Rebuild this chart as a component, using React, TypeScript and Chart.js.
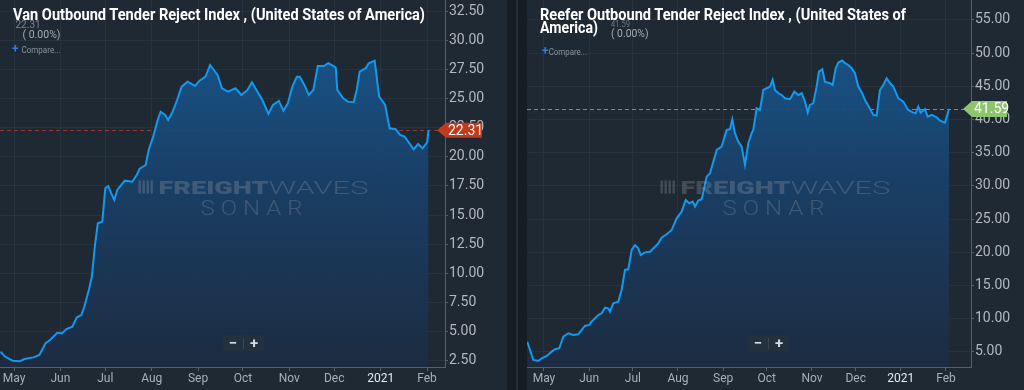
import React, { useEffect, useRef } from 'react';
import { Chart, registerables } from 'chart.js';

Chart.register(...registerables);

// x values are days since 2020-05-01
const monthLabels = ['May', 'Jun', 'Jul', 'Aug', 'Sep', 'Oct', 'Nov', 'Dec', '2021', 'Feb'];
const monthDays = [0, 31, 61, 92, 123, 153, 184, 214, 245, 276];

const vanTicks = [2.5, 5, 7.5, 10, 12.5, 15, 17.5, 20, 22.5, 25, 27.5, 30, 32.5];
const vanDays = [-9, -6, -1, 4, 7, 13, 17, 21, 24, 29, 32, 35, 39, 42, 45, 47, 50, 52, 54, 56, 59, 61, 63, 65, 67, 69, 74, 79, 82, 84, 88, 90, 93, 96, 98, 101, 103, 106, 109, 112, 116, 121, 124, 128, 131, 136, 139, 143, 148, 152, 156, 159, 162, 166, 170, 173, 177, 180, 183, 186, 189, 191, 194, 197, 200, 203, 207, 210, 215, 216, 220, 223, 227, 229, 231, 235, 237, 241, 244, 248, 251, 255, 258, 261, 265, 267, 270, 273, 276, 277];
const vanValues = [3.22, 2.8, 2.44, 2.4, 2.59, 2.73, 2.93, 3.94, 4.22, 4.85, 4.8, 5.17, 5.37, 6.18, 6.38, 7.09, 8.53, 9.68, 12.27, 14.28, 14.42, 17.3, 17.5, 16.87, 16.3, 17.16, 17.96, 17.87, 18.45, 19.0, 19.31, 20.6, 21.75, 23.19, 23.9, 23.62, 23.19, 23.9, 24.91, 26.06, 26.49, 26.12, 26.58, 26.92, 27.93, 27.07, 25.92, 25.63, 25.92, 25.34, 25.78, 26.44, 25.78, 24.91, 23.71, 24.48, 24.83, 23.99, 24.63, 26.06, 26.92, 26.92, 26.21, 25.34, 25.78, 27.84, 27.84, 28.08, 27.73, 25.78, 25.06, 24.77, 24.72, 25.78, 27.36, 27.65, 28.08, 28.3, 25.2, 24.48, 22.47, 22.39, 21.9, 21.75, 21.03, 20.66, 21.12, 20.75, 21.23, 22.31];

const reeferTicks = [5, 10, 15, 20, 25, 30, 35, 40, 45, 50, 55];
const reeferDays = [-11.5, -9.6, -7.3, -3.9, -1.6, 1.9, 5.3, 7.6, 10.5, 13.3, 16.7, 20.1, 23.5, 28.1, 31.1, 32.7, 37.3, 39.6, 41.9, 44.1, 45.3, 47.6, 51, 53.3, 55.6, 57.9, 60.2, 62.5, 64.7, 66.4, 69.3, 72.8, 76.2, 78.5, 80.8, 84.2, 87.7, 91.1, 94.5, 97.3, 99.8, 102.1, 103.7, 105.9, 108.3, 111.7, 114, 118.6, 122, 125.4, 127.7, 129.3, 131.1, 133.4, 135.7, 138, 140.3, 142.6, 143.7, 146, 148.3, 150.6, 152.9, 155.2, 157, 158.6, 160.9, 163.2, 165.5, 168.9, 171.9, 174.6, 177, 179.2, 181.1, 182.6, 184.9, 187.2, 188.8, 191.1, 192.9, 196.4, 198.2, 200.3, 202.1, 204.8, 206.7, 208.9, 211.3, 213.5, 215.8, 218.5, 220.4, 223.1, 226.1, 228.4, 230.7, 233, 235.3, 237.6, 239.9, 243.3, 246.7, 250.1, 253.6, 255.2, 257, 258.6, 261.6, 263.4, 266.2, 269.6, 271.9, 275.3, 278.1];
const reeferValues = [6.55, 5.3, 3.8, 3.64, 4.05, 4.4, 5.05, 5.41, 5.56, 7.3, 7.82, 7.56, 7.66, 8.92, 9.07, 9.56, 10.57, 10.83, 11.67, 11.58, 11.07, 12.33, 12.58, 14.34, 17.35, 17.45, 20.36, 21.11, 20.61, 19.6, 20.0, 20.1, 20.85, 21.36, 22.21, 22.72, 23.37, 25.13, 26.13, 27.9, 27.4, 27.64, 26.89, 27.79, 28.0, 31.4, 31.91, 35.42, 35.92, 38.43, 38.54, 40.04, 37.94, 36.68, 35.92, 33.2, 36.43, 37.94, 38.43, 41.7, 41.45, 44.46, 44.71, 44.96, 45.96, 44.46, 43.96, 43.7, 43.2, 43.06, 44.2, 43.7, 43.96, 42.7, 41.04, 42.2, 42.45, 44.96, 47.22, 47.57, 45.71, 45.46, 45.2, 47.73, 48.58, 48.88, 48.48, 48.22, 47.73, 46.97, 44.96, 43.96, 42.95, 41.94, 40.69, 40.59, 44.46, 45.2, 46.22, 45.46, 44.96, 43.2, 42.7, 41.45, 41.04, 40.95, 41.94, 41.04, 41.55, 40.44, 40.69, 40.34, 39.83, 39.53, 41.59];

const FONT = 'Roboto, "Noto Sans", sans-serif';
const BG = '#1f2934';
const SEP = '#161d25';
const GRID = 'rgba(255,255,255,0.045)';
const AXIS = '#56606a';
const WM = 'rgba(160,166,176,0.28)';

function drawScaled(ctx: CanvasRenderingContext2D, t: string, font: string, x: number, y: number, target: number, ls = '0px') {
  ctx.save();
  ctx.font = font;
  (ctx as any).letterSpacing = ls;
  const w = ctx.measureText(t).width || 1;
  ctx.translate(x, y);
  ctx.scale(target / w, 1);
  ctx.textAlign = 'left';
  ctx.textBaseline = 'alphabetic';
  ctx.fillText(t, 0, 0);
  ctx.restore();
}

type Cfg = {
  days: number[]; values: number[]; yTicks: number[];
  xMin: number; xMax: number; yMin: number; yMax: number;
  axisW: number; tagColor: string; dashColor: string; tagH: number; tagW: number;
};

function makeConfig(p: Cfg): any {
  const last = p.values[p.values.length - 1];
  const points = p.days.map((d, i) => ({ x: d, y: p.values[i] }));
  const refPlugin = {
    id: 'ref',
    beforeDatasetsDraw(chart: any) {
      const { ctx, chartArea } = chart;
      const y = chart.scales.y.getPixelForValue(last);
      ctx.save();
      ctx.strokeStyle = p.dashColor;
      ctx.lineWidth = 1;
      ctx.setLineDash([4, 3]);
      ctx.beginPath();
      ctx.moveTo(chartArea.left, Math.round(y) + 0.5);
      ctx.lineTo(chartArea.right, Math.round(y) + 0.5);
      ctx.stroke();
      ctx.restore();
    },
  };
  const wmPlugin = {
    id: 'wm',
    afterDatasetsDraw(chart: any) {
      const ctx = chart.ctx as CanvasRenderingContext2D;
      const cx = chart.width / 2;
      const x0 = cx - 115;
      ctx.save();
      ctx.fillStyle = WM;
      for (let i = 0; i < 4; i++) ctx.fillRect(x0 + i * 4, 180.5, 2.4, 13);
      drawScaled(ctx, 'FREIGHT', '900 18px ' + FONT, x0 + 20, 193.5, 110);
      drawScaled(ctx, 'WAVES', '300 18px ' + FONT, x0 + 130, 193.5, 100);
      drawScaled(ctx, 'SONAR', '300 20px ' + FONT, cx - 53, 215, 108, '5px');
      ctx.restore();
    },
  };
  const tagPlugin = {
    id: 'tag',
    afterDraw(chart: any) {
      const { ctx, chartArea } = chart;
      const y = chart.scales.y.getPixelForValue(last);
      const r = chartArea.right;
      const h = p.tagH / 2;
      ctx.save();
      ctx.fillStyle = p.tagColor;
      ctx.beginPath();
      ctx.moveTo(r - 8, y);
      ctx.lineTo(r + 1, y - h);
      ctx.lineTo(r + p.tagW, y - h);
      ctx.lineTo(r + p.tagW, y + h);
      ctx.lineTo(r + 1, y + h);
      ctx.closePath();
      ctx.fill();
      ctx.fillStyle = '#ffffff';
      ctx.font = '14px ' + FONT;
      ctx.textAlign = 'left';
      ctx.textBaseline = 'middle';
      ctx.fillText(last.toFixed(2), r + 3, y + 1);
      ctx.restore();
    },
  };
  return {
    type: 'line',
    data: {
      datasets: [{
        data: points,
        borderColor: '#1299f0',
        borderWidth: 2,
        pointRadius: 0,
        tension: 0,
        fill: 'start',
        backgroundColor: (c: any) => {
          const area = c.chart.chartArea;
          if (!area) return 'rgba(24,90,148,0.9)';
          const g = c.chart.ctx.createLinearGradient(0, area.top, 0, area.bottom);
          g.addColorStop(0, 'rgba(24,94,152,0.94)');
          g.addColorStop(0.5, 'rgba(26,64,104,0.94)');
          g.addColorStop(1, 'rgba(29,44,66,0.94)');
          return g;
        },
      }],
    },
    options: {
      responsive: false,
      maintainAspectRatio: false,
      animation: false,
      layout: { padding: 0, autoPadding: false },
      plugins: { legend: { display: false }, tooltip: { enabled: false } },
      scales: {
        x: {
          type: 'linear', min: p.xMin, max: p.xMax,
          afterBuildTicks: (s: any) => { s.ticks = monthDays.map((v) => ({ value: v })); },
          afterFit: (s: any) => { s.height = 23; s.paddingLeft = 0; s.paddingRight = 0; },
          grid: { color: GRID, tickColor: AXIS, tickLength: 4, drawTicks: true },
          border: { color: AXIS, width: 1 },
          ticks: {
            autoSkip: false, maxRotation: 0, padding: 1,
            font: { family: FONT, size: 12 },
            color: (c: any) => (monthLabels[c.index] === '2021' ? '#e6e9ec' : '#a8afb6'),
            callback: (v: any) => monthLabels[monthDays.indexOf(Number(v))] ?? '',
          },
        },
        y: {
          type: 'linear', position: 'right', min: p.yMin, max: p.yMax,
          afterBuildTicks: (s: any) => { s.ticks = p.yTicks.map((v) => ({ value: v })); },
          afterFit: (s: any) => { s.width = p.axisW; s.paddingTop = 0; s.paddingBottom = 0; },
          grid: { color: GRID, tickColor: AXIS, tickLength: 3 },
          border: { color: AXIS, width: 1 },
          ticks: {
            padding: 1,
            font: { family: FONT, size: 14 },
            color: '#b2b8be',
            callback: (v: any) => Number(v).toFixed(2),
          },
        },
      },
    },
    plugins: [refPlugin, wmPlugin, tagPlugin],
  };
}

function ChartCanvas(props: { cfg: Cfg; left: number; width: number }) {
  const ref = useRef<HTMLCanvasElement | null>(null);
  useEffect(() => {
    if (!ref.current) return;
    const chart = new Chart(ref.current, makeConfig(props.cfg));
    return () => chart.destroy();
  }, []);
  return (
    <canvas
      ref={ref}
      width={props.width}
      height={390}
      style={{ position: 'absolute', left: props.left, top: 0, width: props.width, height: 390 }}
    />
  );
}

const vanCfg: Cfg = {
  days: vanDays, values: vanValues, yTicks: vanTicks,
  xMin: -9.36, xMax: 288.0, yMin: 1.9, yMax: 33.53,
  axisW: 62, tagColor: '#c23a1c', dashColor: 'rgba(170,62,42,0.8)', tagH: 15, tagW: 37,
};
const reeferCfg: Cfg = {
  days: reeferDays, values: reeferValues, yTicks: reeferTicks,
  xMin: -11.67, xMax: 293.2, yMin: 2.74, yMax: 58.0,
  axisW: 53, tagColor: '#8cc56b', dashColor: 'rgba(128,178,98,0.85)', tagH: 16, tagW: 36,
};

function ZoomButtons(props: { left: number }) {
  return (
    <div style={{
      position: 'absolute', left: props.left, top: 335, width: 41, height: 16,
      background: 'rgba(36,48,61,0.95)', borderRadius: 2, display: 'flex',
      alignItems: 'center', fontFamily: FONT, fontWeight: 700, fontSize: 15, color: '#d6dadf',
    }}>
      <span style={{ width: 20, textAlign: 'center', lineHeight: '16px' }}>−</span>
      <span style={{ width: 1, height: 11, background: '#3a4653' }} />
      <span style={{ width: 20, textAlign: 'center', lineHeight: '16px' }}>+</span>
    </div>
  );
}

export default function App() {
  return (
    <div style={{ position: 'fixed', left: 0, top: 0, width: 1024, height: 390, background: SEP, overflow: 'hidden' }}>
      <div style={{ position: 'absolute', left: 0, top: 0, width: 507, height: 390, background: BG }} />
      <div style={{ position: 'absolute', left: 516, top: 0, width: 2, height: 390, background: '#252e38' }} />
      <div style={{ position: 'absolute', left: 527, top: 0, width: 497, height: 390, background: BG }} />
      <ChartCanvas cfg={vanCfg} left={0} width={507} />
      <ChartCanvas cfg={reeferCfg} left={527} width={497} />
      <ZoomButtons left={223} />
      <ZoomButtons left={748} />
      <svg width={1024} height={390} style={{ position: 'absolute', left: 0, top: 0, pointerEvents: 'none' }}>
        <g fontFamily={FONT}>
          <text x={15.5} y={28} fontSize={10} fill="#7d8791">22.31</text>
          <text x={22.5} y={37.5} fontSize={11} fill="#a4acb4" textLength={38} lengthAdjust="spacingAndGlyphs">( 0.00%)</text>
          <text x={12} y={52.5} fontSize={12} fontWeight={700} fill="#2b7de0">+</text>
          <text x={21.5} y={52.5} fontSize={9.5} fill="#8b949c" textLength={39} lengthAdjust="spacingAndGlyphs">Compare...</text>
          <text x={13} y={19.5} fontSize={17} fontWeight={700} fill="#ffffff" textLength={412} lengthAdjust="spacingAndGlyphs">Van Outbound Tender Reject Index , (United States of America)</text>

          <text x={611} y={26.5} fontSize={9} fill="#6f7983" textLength={19} lengthAdjust="spacingAndGlyphs">41.59</text>
          <text x={611} y={37} fontSize={11} fill="#a4acb4" textLength={37.5} lengthAdjust="spacingAndGlyphs">( 0.00%)</text>
          <text x={542} y={55} fontSize={12} fontWeight={700} fill="#2b7de0">+</text>
          <text x={548.7} y={55} fontSize={9.5} fill="#8b949c" textLength={38.3} lengthAdjust="spacingAndGlyphs">Compare...</text>
          <text x={540} y={19.5} fontSize={17} fontWeight={700} fill="#ffffff" textLength={366} lengthAdjust="spacingAndGlyphs">Reefer Outbound Tender Reject Index , (United States of</text>
          <text x={540} y={33} fontSize={17} fontWeight={700} fill="#ffffff" textLength={58} lengthAdjust="spacingAndGlyphs">America)</text>
        </g>
      </svg>
    </div>
  );
}
